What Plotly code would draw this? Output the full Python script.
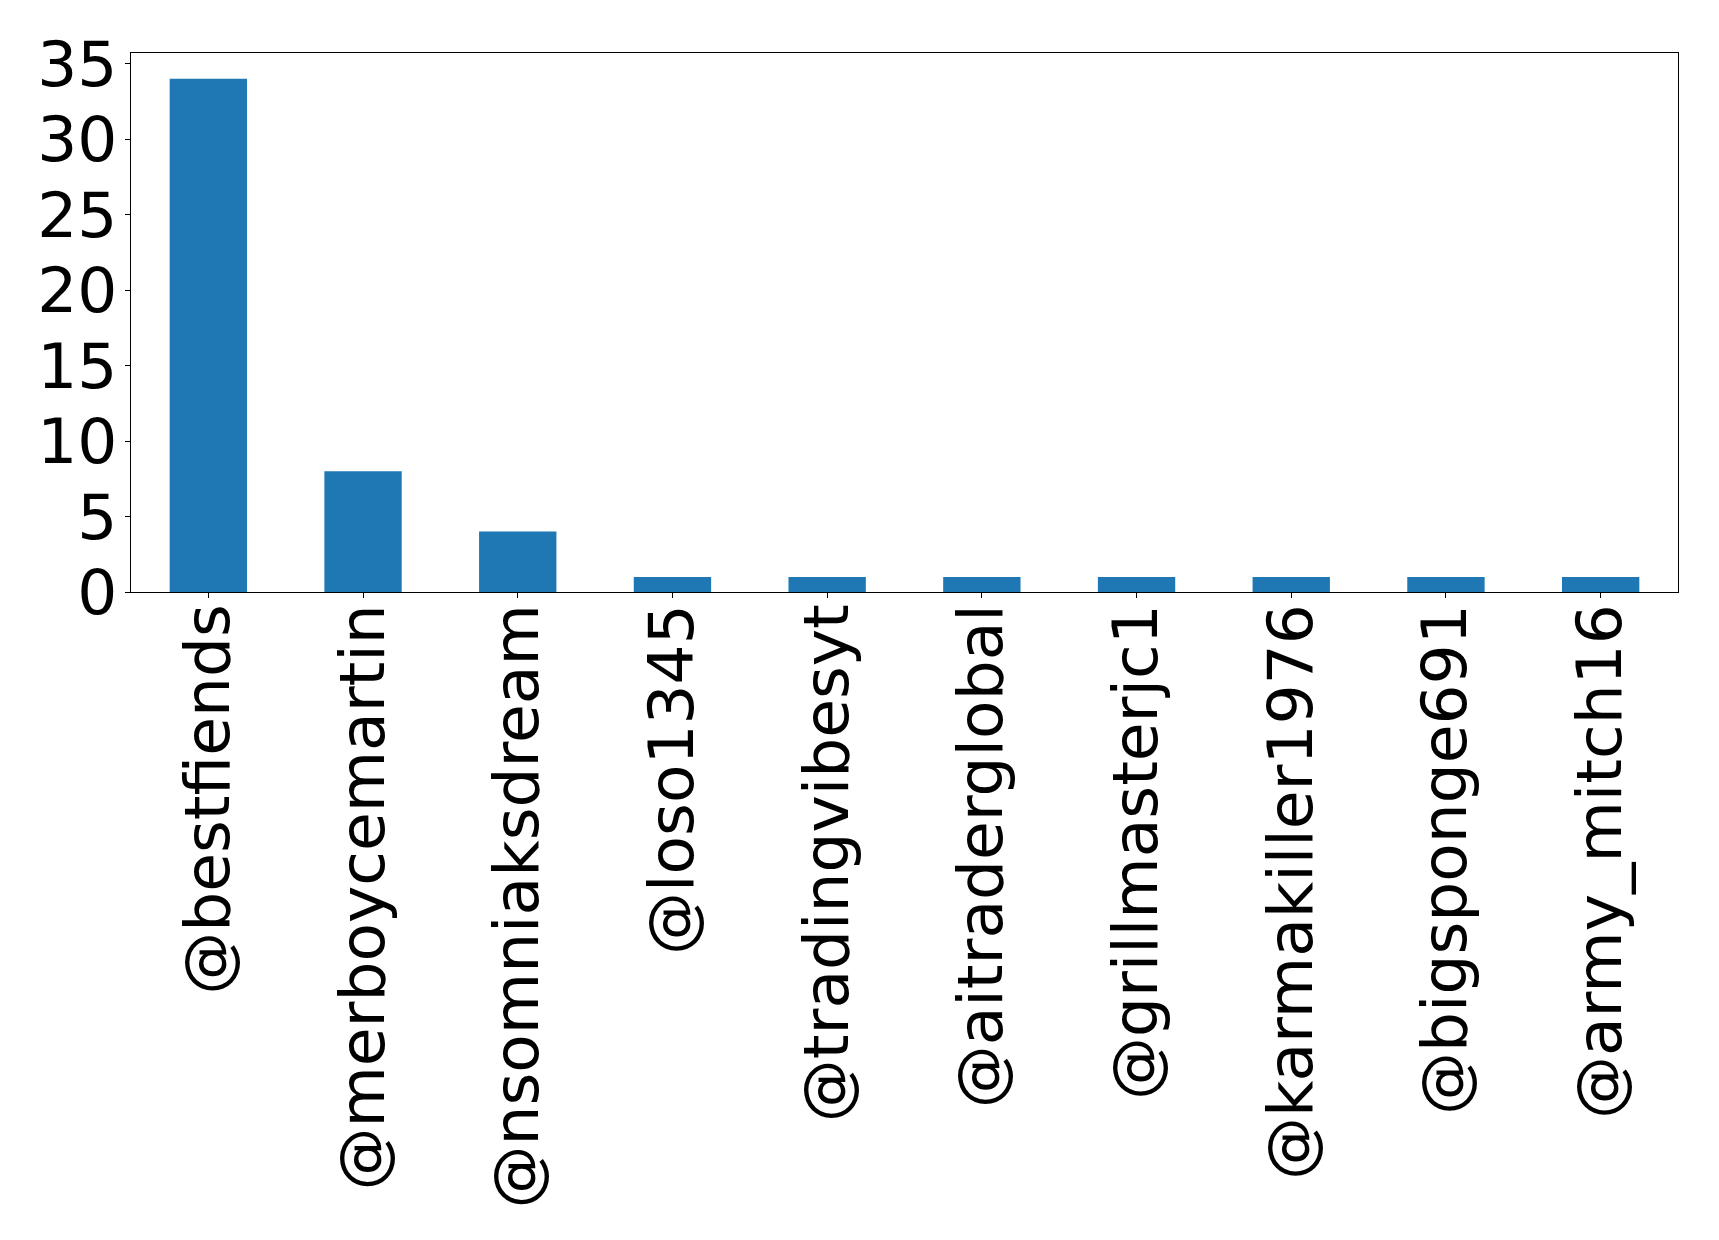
import plotly.graph_objects as go

users = ["@bestfiends", "@merboycemartin", "@nsomniaksdream", "@loso1345",
         "@tradingvibesyt", "@aitraderglobal", "@grillmasterjc1",
         "@karmakiller1976", "@bigsponge691", "@army_mitch16"]
counts = [34, 8, 4, 1, 1, 1, 1, 1, 1, 1]
y_ticks = [0, 5, 10, 15, 20, 25, 30, 35]

fig = go.Figure(go.Bar(x=list(range(len(users))), y=counts, width=0.5,
                       marker=dict(color="#1f77b4", line=dict(width=0))))

font = dict(family="DejaVu Sans", size=63, color="black")
fig.update_layout(
    width=1719, height=1240,
    margin=dict(l=123, r=49, t=45, b=656),
    paper_bgcolor="white", plot_bgcolor="white",
    showlegend=False, font=font,
)
fig.update_xaxes(
    range=[-0.5, len(users) - 0.5],
    tickmode="array", tickvals=list(range(len(users))), ticktext=users,
    tickangle=-90, ticks="outside", ticklen=5, tickwidth=1.1, tickcolor="black",
    showline=True, linecolor="black", linewidth=1.1, mirror=True,
    showgrid=False, zeroline=False, tickfont=font, ticklabelstandoff=-19,
)
fig.update_yaxes(
    range=[0, 35.7], tickmode="array", tickvals=y_ticks,
    ticks="outside", ticklen=5, tickwidth=1.1, tickcolor="black",
    showline=True, linecolor="black", linewidth=1.1, mirror=True,
    showgrid=False, zeroline=False, tickfont=font, ticklabelstandoff=-5,
)
fig.write_html("out.html")
